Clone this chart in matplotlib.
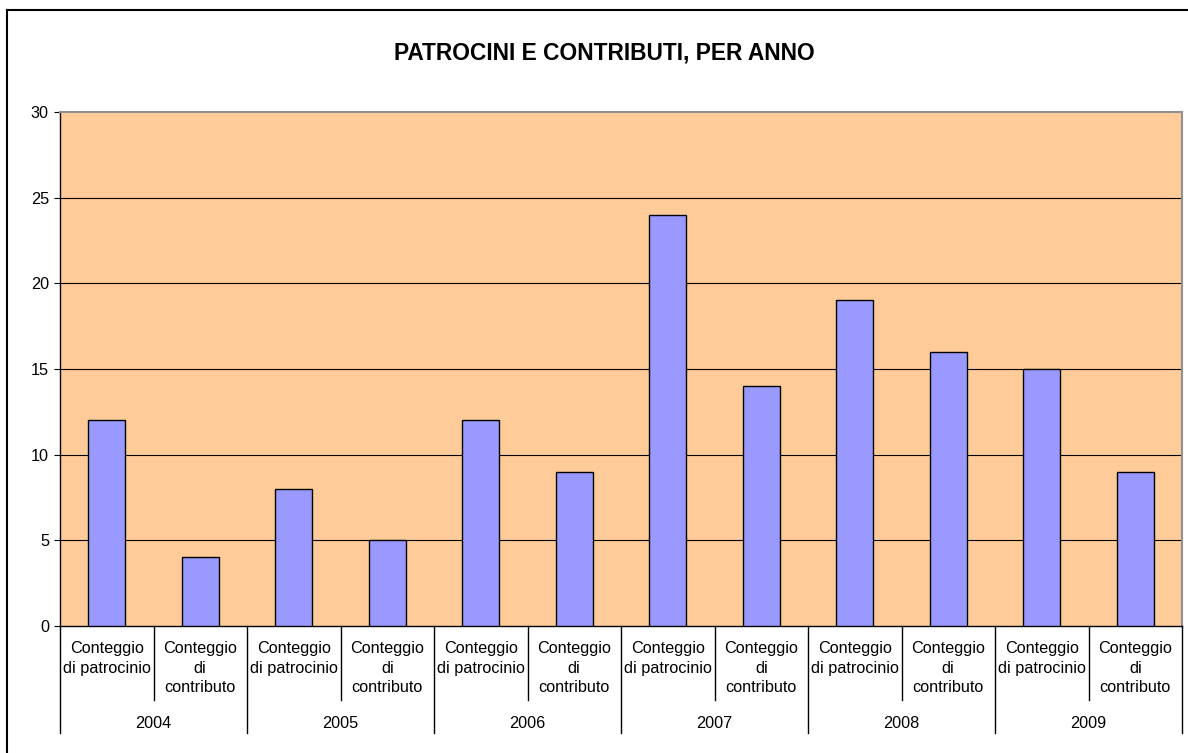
import matplotlib
matplotlib.use("Agg")
import matplotlib.pyplot as plt
from matplotlib.lines import Line2D

years = ["2004", "2005", "2006", "2007", "2008", "2009"]
sub_labels = ["Conteggio\ndi patrocinio", "Conteggio\ndi\ncontributo"]
values = [12, 4, 8, 5, 12, 9, 24, 14, 19, 16, 15, 9]
yticks = [0, 5, 10, 15, 20, 25, 30]
title = "PATROCINI E CONTRIBUTI, PER ANNO"

W, H = 1188, 753
plt.rcParams['font.family'] = ['Liberation Sans', 'DejaVu Sans']
fig = plt.figure(figsize=(W / 100, H / 100), dpi=100)
fig.patch.set_facecolor('white')

# plot area in pixels
L, R, T, B = 60, 1182, 112, 626
ax = fig.add_axes([L / W, (H - B) / H, (R - L) / W, (B - T) / H])
ax.set_facecolor('#FFCC99')

n = len(values)
x = list(range(n))
ax.bar(x, values, width=0.4, color='#9999FF', edgecolor='black', linewidth=1.0, zorder=3)

ax.set_xlim(-0.5, n - 0.5)
ax.set_ylim(0, 30)
ax.set_yticks(yticks)
ax.set_yticklabels([str(v) for v in yticks], fontsize=11.7)
ax.tick_params(axis='y', length=4, width=0.8, pad=4, direction='out', colors='black')
ax.set_xticks([])
for v in yticks[1:-1]:
    ax.axhline(v, color='black', linewidth=0.8, zorder=1)

for s in ['top', 'right']:
    ax.spines[s].set_color('#909090')
    ax.spines[s].set_linewidth(1.5)
for s in ['left', 'bottom']:
    ax.spines[s].set_color('black')
    ax.spines[s].set_linewidth(1.0)

h = B - T
tr = ax.get_xaxis_transform()
y_inner = -(700 - B) / h
y_year = -(733 - B) / h
y_lab = -(641 - B) / h
y_yr = -(724 - B) / h

for i in range(n):
    ax.text(i, y_lab, sub_labels[i % 2], transform=tr, ha='center', va='top',
            fontsize=11.7, linespacing=1.38)
for k in range(n + 1):
    xs = k - 0.5
    yb = y_year if k % 2 == 0 else y_inner
    ax.add_line(Line2D([xs, xs], [0, yb], transform=tr, color='black',
                       linewidth=1.0, clip_on=False))
for j, yr in enumerate(years):
    ax.text(2 * j + 0.5, y_yr, yr, transform=tr, ha='center', va='center', fontsize=11.7)

fig.text(604 / W, 1 - 53 / H, title, ha='center', va='center', fontsize=16.4, fontweight='bold')

# outer chart border (left and top visible)
fig.add_artist(Line2D([7 / W, 7 / W], [0, 1 - 10 / H], transform=fig.transFigure,
                      color='black', linewidth=1.5))
fig.add_artist(Line2D([7 / W, 1], [1 - 10 / H, 1 - 10 / H], transform=fig.transFigure,
                      color='black', linewidth=1.5))

fig.savefig('out.png', dpi=100, facecolor='white')
